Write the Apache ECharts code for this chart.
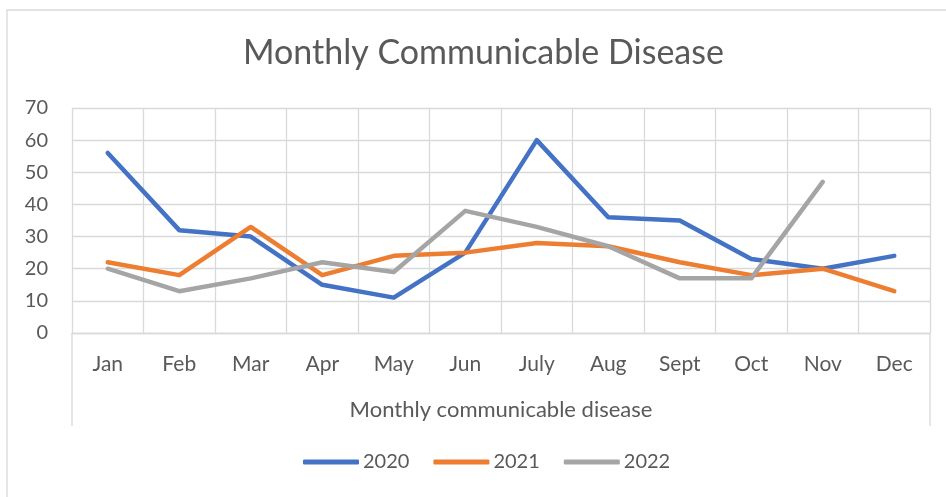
<!DOCTYPE html>
<html>
<head>
<meta charset="utf-8">
<script src="https://cdn.jsdelivr.net/npm/echarts@6/dist/echarts.min.js"></script>
<style>
  html, body { margin: 0; padding: 0; background: #ffffff; }
  #chart { width: 946px; height: 497px; }
</style>
</head>
<body>
<div id="chart"></div>
<script>
// Monthly case counts per year
const months = ['Jan', 'Feb', 'Mar', 'Apr', 'May', 'Jun', 'July', 'Aug', 'Sept', 'Oct', 'Nov', 'Dec'];
const cases2020 = [56, 32, 30, 15, 11, 25, 60, 36, 35, 23, 20, 24];
const cases2021 = [22, 18, 33, 18, 24, 25, 28, 27, 22, 18, 20, 13];
const cases2022 = [20, 13, 17, 22, 19, 38, 33, 27, 17, 17, 47, null];
const yearNames = ['2020', '2021', '2022'];
const yTicks = { min: 0, max: 70, interval: 10 };

const TEXT = '#595959';
const GRID_LINE = '#d9d9d9';
const FONT = 'Lato';

// plot area in pixels
const plot = { left: 72, right: 930, top: 108, bottom: 333 };
const W = 946, H = 497;

const chart = echarts.init(document.getElementById('chart'), null, { renderer: 'canvas' });

function lineSeries(name, data, color) {
  return {
    name: name,
    type: 'line',
    data: data,
    symbol: 'none',
    connectNulls: false,
    lineStyle: { width: 4.5, color: color, cap: 'round', join: 'round' },
    itemStyle: { color: color },
    emphasis: { disabled: true }
  };
}

chart.setOption({
  animation: false,
  backgroundColor: '#ffffff',
  textStyle: { fontFamily: FONT, color: TEXT },
  title: {
    text: 'Monthly Communicable Disease',
    left: 238,
    top: 31,
    textStyle: { fontFamily: FONT, fontSize: 34, fontWeight: 'normal', color: TEXT }
  },
  legend: {
    data: yearNames,
    left: 303,
    top: 452,
    padding: 0,
    icon: 'roundRect',
    itemWidth: 56,
    itemHeight: 5,
    itemGap: 24,
    textStyle: { fontFamily: FONT, fontSize: 20, color: TEXT, padding: [0, 0, 0, -1] }
  },
  grid: {
    left: plot.left,
    right: W - plot.right,
    top: plot.top,
    bottom: H - plot.bottom,
    containLabel: false
  },
  xAxis: {
    type: 'category',
    data: months,
    boundaryGap: true,
    axisLine: { show: true, lineStyle: { color: GRID_LINE, width: 1.3 } },
    axisTick: { show: false },
    splitLine: { show: true, lineStyle: { color: GRID_LINE, width: 1.3 } },
    axisLabel: { color: TEXT, fontFamily: FONT, fontSize: 21, margin: 21 },
    name: 'Monthly communicable disease',
    nameLocation: 'middle',
    nameGap: 66,
    nameTextStyle: { color: TEXT, fontFamily: FONT, fontSize: 22 }
  },
  yAxis: {
    type: 'value',
    min: yTicks.min,
    max: yTicks.max,
    interval: yTicks.interval,
    axisLine: { show: false },
    axisTick: { show: false },
    splitLine: { show: true, lineStyle: { color: GRID_LINE, width: 1.3 } },
    axisLabel: { color: TEXT, fontFamily: FONT, fontSize: 20, margin: 24 }
  },
  graphic: [
    // chart area border
    {
      type: 'rect',
      shape: { x: 7, y: 10, width: 1000, height: 600 },
      style: { fill: 'none', stroke: GRID_LINE, lineWidth: 1.3 },
      silent: true
    },
    // category label box sides
    {
      type: 'line',
      shape: { x1: plot.left, y1: plot.bottom, x2: plot.left, y2: 426 },
      style: { stroke: GRID_LINE, lineWidth: 1.3 },
      silent: true
    },
    {
      type: 'line',
      shape: { x1: plot.right, y1: plot.bottom, x2: plot.right, y2: 426 },
      style: { stroke: GRID_LINE, lineWidth: 1.3 },
      silent: true
    }
  ],
  series: [
    lineSeries(yearNames[0], cases2020, '#4472c4'),
    lineSeries(yearNames[1], cases2021, '#ed7d31'),
    lineSeries(yearNames[2], cases2022, '#a5a5a5')
  ]
});
</script>
</body>
</html>
